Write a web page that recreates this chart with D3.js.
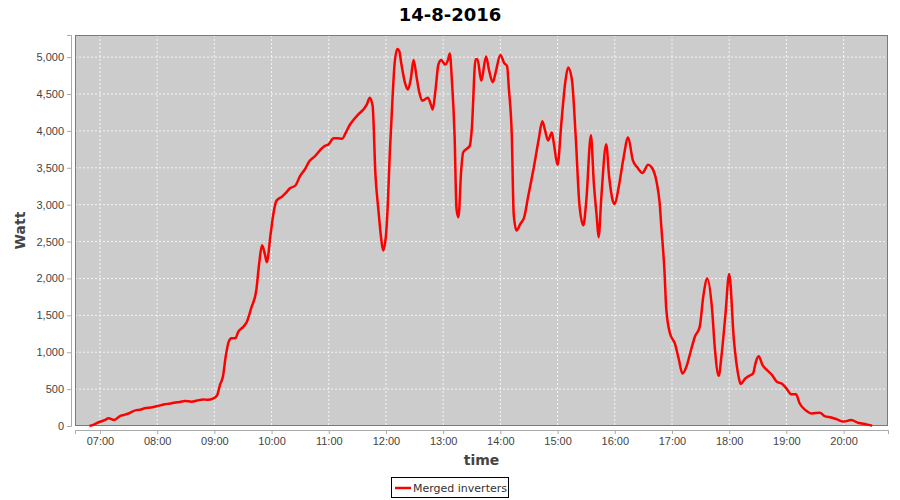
<!DOCTYPE html>
<html>
<head>
<meta charset="utf-8">
<script src="https://cdn.jsdelivr.net/npm/d3@7"></script>
<style>
body { margin: 0; background: #fff; }
svg { display: block; font-family: "DejaVu Sans", sans-serif; }
.axis text { fill: #444; font-size: 11px; }
.axis path, .axis line { stroke: #aaa; }
</style>
</head>
<body>
<div id="chart"></div>
<script>
var chartTitle = "14-8-2016";
var seriesName = "Merged inverters";

var times = ["06:49","06:53","07:00","07:05","07:09","07:15","07:21","07:25","07:30","07:38",
  "07:42","07:47","07:53","08:00","08:08","08:14","08:19","08:24","08:29","08:36",
  "08:42","08:48","08:53","08:59","09:03","09:06","09:09","09:12","09:15","09:18",
  "09:22","09:25","09:30","09:34","09:39","09:44","09:47","09:50","09:53","09:55",
  "09:59","10:02","10:05","10:11","10:15","10:19","10:25","10:30","10:35","10:40",
  "10:45","10:51","10:55","11:00","11:05","11:09","11:14","11:18","11:22","11:26",
  "11:31","11:36","11:40","11:43","11:46","11:49","11:52","11:55","11:57","12:00",
  "12:02","12:04","12:07","12:09","12:12","12:14","12:16","12:20","12:23","12:26",
  "12:29","12:32","12:35","12:38","12:44","12:47","12:49","12:52","12:55","12:58",
  "13:02","13:05","13:07","13:09","13:12","13:14","13:16","13:19","13:21","13:25",
  "13:28","13:30","13:34","13:36","13:40","13:45","13:48","13:52","13:55","14:00",
  "14:04","14:07","14:09","14:12","14:14","14:17","14:21","14:25","14:29","14:35",
  "14:40","14:44","14:47","14:50","14:54","14:56","15:00","15:04","15:08","15:11",
  "15:15","15:19","15:23","15:27","15:30","15:35","15:38","15:41","15:43","15:46",
  "15:51","15:54","15:58","16:00","16:04","16:09","16:14","16:19","16:24","16:29",
  "16:35","16:39","16:44","16:47","16:49","16:52","16:54","16:58","17:03","17:07",
  "17:11","17:15","17:20","17:24","17:29","17:33","17:37","17:42","17:45","17:49",
  "17:52","17:56","18:00","18:05","18:10","18:12","18:17","18:21","18:25","18:28",
  "18:31","18:35","18:40","18:45","18:50","18:55","19:00","19:05","19:10","19:14",
  "19:20","19:27","19:35","19:40","19:47","19:53","20:00","20:08","20:15","20:24",
  "20:30"];

var watts = [0,15,58,80,104,82,135,150,170,215,
  220,240,250,270,295,305,320,325,338,330,
  345,360,355,374,420,560,670,950,1140,1190,
  1190,1275,1340,1410,1610,1840,2200,2450,2330,2220,
  2600,2880,3050,3110,3160,3220,3260,3390,3480,3595,
  3650,3740,3790,3820,3900,3900,3895,3980,4080,4150,
  4225,4285,4360,4450,4340,3400,2940,2540,2380,2580,
  3030,3690,4470,4900,5110,5080,4920,4650,4560,4700,
  4960,4740,4520,4410,4450,4360,4290,4560,4900,4960,
  4900,4960,5050,4720,3930,2940,2830,3480,3710,3760,
  3800,4020,4970,4970,4680,5010,4830,4660,4790,5030,
  4920,4880,4560,3930,2870,2650,2740,2830,3100,3500,
  3870,4130,4000,3870,3980,3840,3540,4110,4650,4860,
  4700,3930,2990,2720,3030,3940,3300,2850,2560,3120,
  3820,3390,3050,3010,3230,3620,3910,3600,3500,3430,
  3540,3500,3300,3030,2670,2130,1590,1250,1120,915,
  710,800,1030,1210,1340,1770,2000,1590,1050,680,
  960,1500,2060,1160,660,570,645,680,710,870,
  945,825,755,690,600,575,510,430,430,305,
  215,170,180,135,115,90,60,80,45,22,
  5];

var yTicks = [0, 500, 1000, 1500, 2000, 2500, 3000, 3500, 4000, 4500, 5000];
var xTickLabels = ["07:00","08:00","09:00","10:00","11:00","12:00","13:00",
  "14:00","15:00","16:00","17:00","18:00","19:00","20:00"];

var parseTime = d3.timeParse("%Y-%m-%d %H:%M:%S");
var day = "2016-08-14 ";

var data = times.map(function(t, i) {
    return { time: parseTime(day + t + ":00"), watt: watts[i] };
});

var width = 900, height = 500;
var margin = {top: 35, right: 12, bottom: 74, left: 75};
var plotW = width - margin.left - margin.right;
var plotH = height - margin.top - margin.bottom;

var svg = d3.select("#chart").append("svg")
    .attr("width", width)
    .attr("height", height);

var x = d3.scaleTime()
    .domain([parseTime(day + "06:33:50"), parseTime(day + "20:46:35")])
    .range([0, plotW]);
var y = d3.scaleLinear().domain([0, 5300]).range([plotH, 0]);

svg.append("text")
    .attr("x", width / 2)
    .attr("y", 21)
    .attr("text-anchor", "middle")
    .style("font-size", "18px")
    .style("font-weight", "bold")
    .style("fill", "#000")
    .text(chartTitle);

var g = svg.append("g")
    .attr("transform", "translate(" + margin.left + "," + margin.top + ")");

g.append("rect")
    .attr("width", plotW)
    .attr("height", plotH)
    .attr("fill", "#cccccc");

var tickTimes = xTickLabels.map(function(t) { return parseTime(day + t + ":00"); });

// grid
g.append("g").selectAll("line")
    .data(yTicks.slice(1))
  .enter().append("line")
    .attr("x1", 0).attr("x2", plotW)
    .attr("y1", function(d) { return y(d); })
    .attr("y2", function(d) { return y(d); })
    .attr("stroke", "#fff")
    .attr("stroke-width", 0.8)
    .attr("stroke-dasharray", "2,2");

g.append("g").selectAll("line")
    .data(tickTimes)
  .enter().append("line")
    .attr("y1", 0).attr("y2", plotH)
    .attr("x1", function(d) { return x(d); })
    .attr("x2", function(d) { return x(d); })
    .attr("stroke", "#fff")
    .attr("stroke-width", 0.8)
    .attr("stroke-dasharray", "2,2");

g.append("rect")
    .attr("x", 0.5).attr("y", 0.5)
    .attr("width", plotW - 1)
    .attr("height", plotH - 1)
    .attr("fill", "none")
    .attr("stroke", "#7a7a7a");

// axes
g.append("g")
    .attr("class", "axis")
    .attr("transform", "translate(-4,0)")
    .call(d3.axisLeft(y).tickValues(yTicks).tickSize(4).tickPadding(3)
        .tickFormat(d3.format(",")));

g.append("g")
    .attr("class", "axis")
    .attr("transform", "translate(0," + (plotH + 4) + ")")
    .call(d3.axisBottom(x).tickValues(tickTimes).tickSize(4).tickPadding(3)
        .tickFormat(d3.timeFormat("%H:%M")));

svg.append("text")
    .attr("transform", "translate(25," + (margin.top + plotH / 2) + ") rotate(-90)")
    .attr("text-anchor", "middle")
    .style("font-size", "14px")
    .style("font-weight", "bold")
    .style("fill", "#444")
    .text("Watt");

svg.append("text")
    .attr("x", margin.left + plotW / 2)
    .attr("y", 465)
    .attr("text-anchor", "middle")
    .style("font-size", "14px")
    .style("font-weight", "bold")
    .style("fill", "#444")
    .text("time");

var line = d3.line()
    .x(function(d) { return x(d.time); })
    .y(function(d) { return y(d.watt); })
    .curve(d3.curveMonotoneX);

g.append("path")
    .datum(data)
    .attr("fill", "none")
    .attr("stroke", "#ff0000")
    .attr("stroke-width", 2.5)
    .attr("stroke-linejoin", "round")
    .attr("d", line);

// legend
var legend = svg.append("g").attr("transform", "translate(391,477)");
legend.append("rect")
    .attr("x", 0.5).attr("y", 0.5)
    .attr("width", 117).attr("height", 20)
    .attr("fill", "#fff")
    .attr("stroke", "#000");
legend.append("line")
    .attr("x1", 4).attr("x2", 20)
    .attr("y1", 11).attr("y2", 11)
    .attr("stroke", "#ff0000")
    .attr("stroke-width", 2.5);
legend.append("text")
    .attr("x", 22)
    .attr("y", 15)
    .style("font-size", "11px")
    .style("fill", "#333")
    .text(seriesName);
</script>
</body>
</html>
